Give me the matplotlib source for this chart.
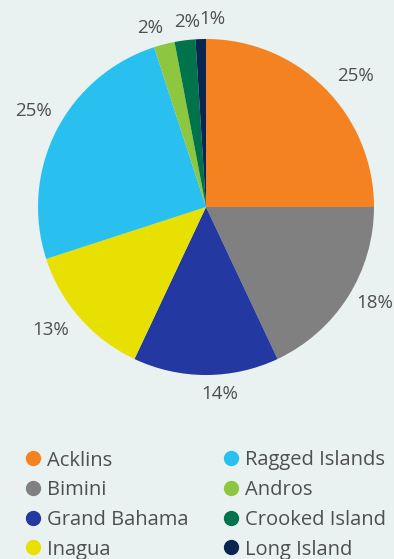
import matplotlib
matplotlib.use("Agg")
import matplotlib.pyplot as plt
from matplotlib.lines import Line2D

islands = ["Acklins", "Bimini", "Grand Bahama", "Inagua",
           "Ragged Islands", "Andros", "Crooked Island", "Long Island"]
shares = [25, 18, 14, 13, 25, 2, 2, 1]
colors = ["#F58220", "#808080", "#2338A0", "#E8E000",
          "#29C0F0", "#8DC63F", "#00734A", "#0A2550"]

bg = "#E9F2F1"
text_color = "#4f4f4f"
plt.rcParams["font.family"] = ["Open Sans", "DejaVu Sans"]

W, H = 394, 559
fig = plt.figure(figsize=(W / 100, H / 100), dpi=100, facecolor=bg)

cx, cy, r = 206, 207, 168
ax = fig.add_axes([(cx - r) / W, (H - cy - r) / H, 2 * r / W, 2 * r / H])
ax.set_facecolor(bg)

wedges, texts, autotexts = ax.pie(
    shares, colors=colors, startangle=90, counterclock=False,
    autopct="%d%%", pctdistance=1.17, radius=1,
    wedgeprops=dict(linewidth=0),
    textprops=dict(fontsize=13.5, color=text_color))

# fine placement of the percentage labels around the rim
nudges = [(0.06, -0.048), (0.018, 0.054), (0.083, 0.054), (-0.045, 0.042),
          (0.018, 0.042), (-0.042, -0.065), (0.033, -0.06), (0.077, -0.05)]
for t, (dx, dy) in zip(autotexts, nudges):
    x, y = t.get_position()
    t.set_position((x + dx, y + dy))

ax.set_xlim(-1, 1)
ax.set_ylim(-1, 1)
ax.set_aspect("equal")
ax.axis("off")

handles = [Line2D([], [], linestyle="none", marker="o", markersize=10,
                  markerfacecolor=c, markeredgecolor=c) for c in colors]

legend_kw = dict(loc="upper left", frameon=False, fontsize=14.5,
                 labelcolor=text_color, handletextpad=0.2,
                 handlelength=0.95, labelspacing=0.48, borderpad=0,
                 borderaxespad=0)
fig.legend(handles[:4], islands[:4],
           bbox_to_anchor=(23.8 / W, 1 - 450.5 / H), **legend_kw)
fig.legend(handles[4:], islands[4:],
           bbox_to_anchor=(221.8 / W, 1 - 450.5 / H), **legend_kw)

fig.savefig("out.png", dpi=100, facecolor=bg)
